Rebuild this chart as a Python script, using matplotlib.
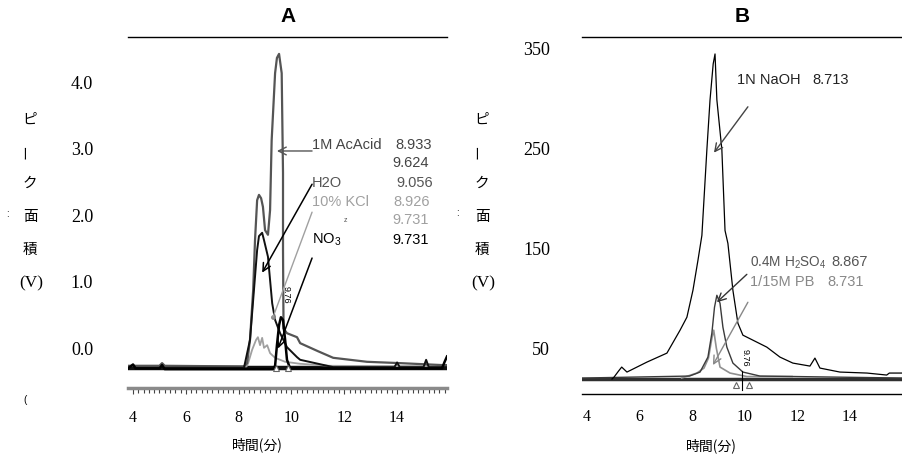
import matplotlib
matplotlib.use('Agg')
import matplotlib.pyplot as plt
from matplotlib.ticker import MultipleLocator

plt.rcParams['font.family'] = ['Liberation Sans', 'Noto Sans CJK JP', 'DejaVu Sans']
plt.rcParams['mathtext.fontset'] = 'custom'
plt.rcParams['mathtext.rm'] = 'Liberation Sans'
plt.rcParams['mathtext.it'] = 'Liberation Sans'
plt.rcParams['mathtext.default'] = 'rm'

# ---------------- Panel A data (time [min], peak area [V]) ----------------
A_acacid_t = [3.81, 5.0, 5.1, 5.2, 8.2, 8.32, 8.43, 8.55, 8.62, 8.70, 8.77, 8.85, 8.92, 9.00,
              9.11, 9.19, 9.25, 9.38, 9.45, 9.53, 9.63, 9.68, 9.68, 9.70, 9.83, 10.21, 10.33,
              11.0, 11.58, 12.86, 14.11, 15.74, 15.89]
A_acacid_v = [-0.26, -0.26, -0.22, -0.26, -0.27, -0.22, 0.13, 0.88, 1.63, 2.23, 2.31, 2.26, 2.13, 1.78,
              1.71, 2.08, 3.13, 4.14, 4.37, 4.43, 4.14, 2.64, 1.48, 0.30, 0.23, 0.17, 0.08,
              -0.04, -0.14, -0.20, -0.22, -0.25, -0.25]

A_h2o_t = [3.81, 8.2, 8.24, 8.43, 8.58, 8.70, 8.77, 8.89, 8.96, 9.11, 9.27, 9.38, 9.57, 9.83,
           10.21, 10.33, 11.58, 13.9, 14.0, 14.1, 15.0, 15.1, 15.2, 15.89]
A_h2o_v = [-0.29, -0.29, -0.22, 0.13, 0.88, 1.48, 1.69, 1.74, 1.63, 1.38, 0.68, 0.43, 0.23, 0.02,
           -0.13, -0.17, -0.28, -0.28, -0.21, -0.28, -0.28, -0.17, -0.28, -0.28]

A_kcl_t = [3.81, 8.3, 8.36, 8.51, 8.66, 8.73, 8.81, 8.89, 8.96, 9.08, 9.19, 9.38, 9.76, 10.33, 11.46, 15.89]
A_kcl_v = [-0.27, -0.27, -0.22, -0.02, 0.13, 0.17, 0.05, 0.16, 0.01, 0.05, -0.07, -0.14, -0.20, -0.23, -0.26, -0.27]

A_no3_t = [3.81, 4.0, 4.1, 5.0, 5.1, 5.2, 9.3, 9.38, 9.45, 9.53, 9.60, 9.68, 9.76, 9.83, 9.95,
           15.7, 15.8, 15.89]
A_no3_v = [-0.30, -0.24, -0.30, -0.30, -0.25, -0.31, -0.31, -0.26, 0.05, 0.35, 0.47, 0.43, 0.13, -0.17, -0.30,
           -0.30, -0.20, -0.12]

A_base_t = [3.81, 15.89]
A_base_v = [-0.29, -0.29]

A_marks_t = [9.42, 9.87]
A_marks_v = [-0.29, -0.29]

A_yticks = [0, 1, 2, 3, 4]
A_yticklabels = ['0.0', '1.0', '2.0', '3.0', '4.0']
A_xticks = [4, 6, 8, 10, 12, 14]

# ---------------- Panel B data ----------------
B_naoh_t = [4.95, 5.03, 5.20, 5.32, 5.52, 6.28, 7.04, 7.54, 7.80, 8.03, 8.22, 8.37, 8.56, 8.68,
            8.80, 8.87, 8.94, 9.13, 9.25, 9.36, 9.55, 9.74, 9.93, 10.31, 10.84, 11.34, 11.83,
            12.48, 12.67, 12.86, 13.62, 14.65, 15.40, 15.50, 16.02]
B_naoh_v = [19, 21, 27, 31, 26, 36, 45, 68, 81, 108, 138, 163, 249, 299,
            335, 345, 299, 249, 168, 155, 108, 75, 63, 58, 51, 41, 35,
            32, 40, 30, 26, 25, 23, 25, 25]

B_h2so4_t = [3.81, 7.9, 8.30, 8.60, 8.75, 8.85, 8.94, 9.06, 9.17, 9.32, 9.55, 9.93, 10.58, 16.02]
B_h2so4_v = [20, 22, 26, 41, 65, 91, 103, 95, 71, 51, 35, 26, 22, 20]

B_pb_t = [7.6, 8.18, 8.45, 8.62, 8.75, 8.82, 8.92, 9.06, 9.44, 10.08, 11.8]
B_pb_v = [20, 25, 30, 40, 60, 68, 50, 31, 25, 21.5, 21.5]

B_base_t = [3.81, 16.02]
B_base_v = [19.5, 19.5]

B_marks_t = [9.67, 10.16]
B_marks_v = [13, 13]

B_yticks = [50, 150, 250, 350]
B_xticks = [4, 6, 8, 10, 12, 14]

ylabel_chars = ['ピ', 'ー', 'ク', '面', '積', '(V)']

# ---------------- Figure ----------------
W, H = 903, 459
fig = plt.figure(figsize=(W / 100, H / 100), dpi=100)

def fx(px):
    return px / W

def fy(py):
    return 1 - py / H

axA = fig.add_axes([fx(128), fy(388), (447 - 128) / W, (388 - 37) / H])
axB = fig.add_axes([fx(582), fy(394), (903 - 582) / W, (394 - 37) / H])

serif = 'Liberation Serif'

# ---- Panel A ----
axA.plot(A_base_t, A_base_v, color='#111111', lw=3.2)
axA.plot(A_kcl_t, A_kcl_v, color='#a0a0a0', lw=1.3)
axA.plot(A_acacid_t, A_acacid_v, color='#555555', lw=1.6)
axA.plot(A_h2o_t, A_h2o_v, color='#111111', lw=1.4)
axA.plot(A_no3_t, A_no3_v, color='#000000', lw=1.8)
axA.plot(A_marks_t, A_marks_v, ls='none', marker='^', ms=5, mfc='white', mec='#666666', mew=0.8)

axA.set_xlim(3.81, 15.89)
axA.set_ylim(-0.594, 4.684)
for s in ['left', 'right']:
    axA.spines[s].set_visible(False)
axA.spines['top'].set_linewidth(1.0)
axA.spines['bottom'].set_linewidth(2.5)
axA.spines['bottom'].set_color('#8a8a8a')

axA.set_yticks(A_yticks)
axA.set_yticklabels(A_yticklabels, fontfamily=serif, fontsize=13)
axA.tick_params(axis='y', length=0, pad=25)
axA.set_xticks(A_xticks)
axA.set_xticklabels([str(v) for v in A_xticks], fontfamily=serif, fontsize=11.5)
axA.xaxis.set_minor_locator(MultipleLocator(0.2))
axA.tick_params(axis='x', which='major', length=4, width=0.8, color='#444444', pad=12)
axA.tick_params(axis='x', which='minor', length=3.5, width=0.8, color='#444444')

ann_fs = 10.5
axA.annotate('', xy=(9.45, 2.97), xytext=(10.78, 2.97),
             arrowprops=dict(arrowstyle='->', color='#555555', lw=1.0, shrinkA=0, shrinkB=0, mutation_scale=14))
axA.annotate('', xy=(8.89, 1.14), xytext=(10.78, 2.47),
             arrowprops=dict(arrowstyle='->', color='#000000', lw=1.1, shrinkA=0, shrinkB=0, mutation_scale=14))
axA.annotate('', xy=(9.30, 0.47), xytext=(10.78, 2.05),
             arrowprops=dict(arrowstyle='-', color='#a0a0a0', lw=1.0, shrinkA=0, shrinkB=0))
axA.plot([9.30], [0.47], marker='o', ms=2.5, color='#888888')
axA.annotate('', xy=(9.49, 0.0), xytext=(10.78, 1.36),
             arrowprops=dict(arrowstyle='->', color='#000000', lw=1.1, shrinkA=0, shrinkB=0, mutation_scale=14))

axA.text(10.78, 3.06, '1M AcAcid', color='#444444', fontsize=ann_fs, va='center', ha='left')
axA.text(13.92, 3.06, '8.933', color='#444444', fontsize=ann_fs, va='center', ha='left')
axA.text(13.81, 2.79, '9.624', color='#444444', fontsize=ann_fs, va='center', ha='left')
axA.text(10.78, 2.49, 'H2O', color='#555555', fontsize=ann_fs, va='center', ha='left')
axA.text(13.96, 2.49, '9.056', color='#555555', fontsize=ann_fs, va='center', ha='left')
axA.text(10.78, 2.20, '10% KCl', color='#a0a0a0', fontsize=ann_fs, va='center', ha='left')
axA.text(13.85, 2.20, '8.926', color='#a0a0a0', fontsize=ann_fs, va='center', ha='left')
axA.text(12.03, 1.93, 'z', color='#555555', fontsize=5, va='center', ha='center')
axA.text(13.81, 1.93, '9.731', color='#a0a0a0', fontsize=ann_fs, va='center', ha='left')
axA.text(10.78, 1.63, 'NO$_3$', color='#000000', fontsize=ann_fs, va='center', ha='left')
axA.text(13.81, 1.63, '9.731', color='#000000', fontsize=ann_fs, va='center', ha='left')
axA.text(9.78, 0.80, '9.76', color='#000000', fontsize=6.5, va='center', ha='center', rotation=270)

# ---- Panel B ----
axB.plot(B_base_t, B_base_v, color='#303030', lw=2.5)
axB.plot(B_pb_t, B_pb_v, color='#909090', lw=1.2)
axB.plot(B_h2so4_t, B_h2so4_v, color='#3a3a3a', lw=1.0)
axB.plot(B_naoh_t, B_naoh_v, color='#000000', lw=0.9)
axB.plot(B_marks_t, B_marks_v, ls='none', marker='^', ms=5, mfc='white', mec='#666666', mew=0.8)
axB.plot([9.89, 9.89], [8, 27], color='#000000', lw=0.8)

axB.set_xlim(3.81, 16.02)
axB.set_ylim(4, 362)
for s in ['left', 'right']:
    axB.spines[s].set_visible(False)
axB.spines['top'].set_linewidth(1.0)
axB.spines['bottom'].set_linewidth(1.0)

axB.set_yticks(B_yticks)
axB.set_yticklabels([str(v) for v in B_yticks], fontfamily=serif, fontsize=13)
axB.tick_params(axis='y', length=0, pad=23)
axB.set_xticks(B_xticks)
axB.set_xticklabels([str(v) for v in B_xticks], fontfamily=serif, fontsize=11.5)
axB.tick_params(axis='x', length=0, pad=11)

axB.annotate('', xy=(8.83, 246), xytext=(10.12, 292),
             arrowprops=dict(arrowstyle='->', color='#444444', lw=1.0, shrinkA=0, shrinkB=0, mutation_scale=14))
axB.annotate('', xy=(8.94, 96), xytext=(10.08, 124),
             arrowprops=dict(arrowstyle='->', color='#333333', lw=1.0, shrinkA=0, shrinkB=0, mutation_scale=14))
axB.annotate('', xy=(8.79, 33), xytext=(10.12, 96),
             arrowprops=dict(arrowstyle='->', color='#888888', lw=1.0, shrinkA=0, shrinkB=0, mutation_scale=14))

axB.text(9.70, 319, '1N NaOH', color='#222222', fontsize=ann_fs, va='center', ha='left')
axB.text(12.56, 319, '8.713', color='#222222', fontsize=ann_fs, va='center', ha='left')
axB.text(10.20, 136, '0.4M H$_2$SO$_4$', color='#555555', fontsize=9.8, va='center', ha='left')
axB.text(13.30, 136, '8.867', color='#555555', fontsize=ann_fs, va='center', ha='left')
axB.text(10.20, 116, '1/15M PB', color='#888888', fontsize=ann_fs, va='center', ha='left')
axB.text(13.16, 116, '8.731', color='#888888', fontsize=ann_fs, va='center', ha='left')
axB.text(10.02, 40, '9.76', color='#000000', fontsize=6.5, va='center', ha='center', rotation=270)

# ---- Titles, axis labels ----
fig.text(fx(288), fy(17), 'A', fontsize=15, fontweight='bold', ha='center', va='center')
fig.text(fx(742), fy(17), 'B', fontsize=15, fontweight='bold', ha='center', va='center')

cjk = ['Noto Sans CJK JP', 'DejaVu Sans']
ys = [120, 152, 184, 217, 250, 283]
for xc in (30, 482):
    for ch, yy in zip(ylabel_chars, ys):
        if ch == '(V)':
            fig.text(fx(xc + 1), fy(yy), ch, fontsize=12.5, fontfamily=serif, ha='center', va='center')
        elif ch == 'ー':
            fig.text(fx(xc - 4), fy(yy), ch, fontsize=10.5, fontfamily=cjk, ha='center', va='center', rotation=90)
        else:
            fig.text(fx(xc), fy(yy), ch, fontsize=10.5, fontfamily=cjk, ha='center', va='center')

fig.text(fx(257), fy(445), '時間(分)', fontsize=10, fontfamily=cjk, ha='center', va='center')
fig.text(fx(711), fy(446), '時間(分)', fontsize=10, fontfamily=cjk, ha='center', va='center')

# stray scan marks
fig.text(fx(7), fy(214), ':', fontsize=7, ha='center', va='center')
fig.text(fx(457), fy(213), ':', fontsize=7, ha='center', va='center')
fig.text(fx(25), fy(400), '(', fontsize=7, ha='center', va='center')

fig.savefig('out.png', dpi=100)
